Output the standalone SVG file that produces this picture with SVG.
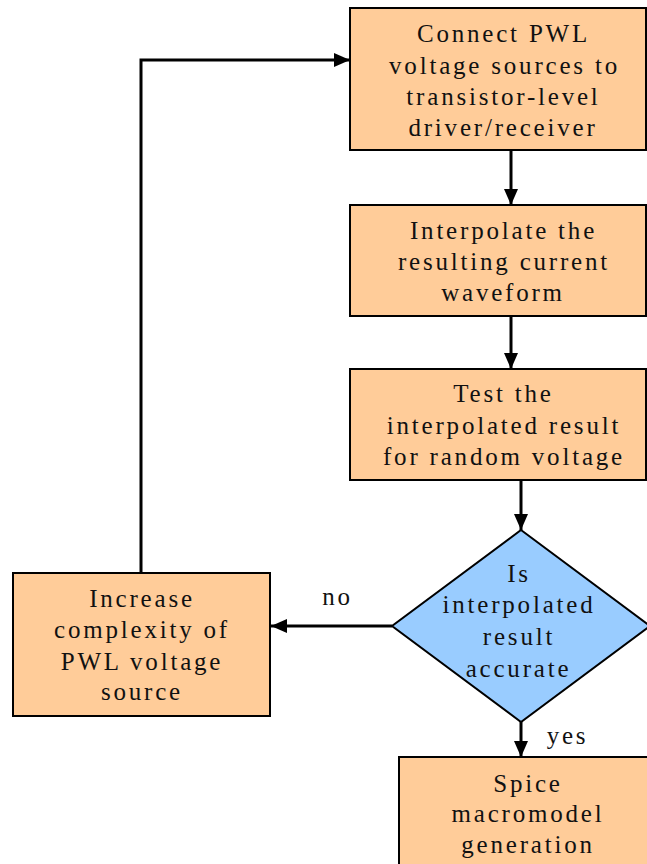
<svg xmlns="http://www.w3.org/2000/svg" width="647" height="864" viewBox="0 0 647 864">
<defs>
<marker id="ah" markerWidth="16" markerHeight="14" refX="16" refY="7" orient="auto" markerUnits="userSpaceOnUse">
<path d="M0,0 L16,7 L0,14 Z" fill="#000"/>
</marker>
</defs>
<style>
.box{fill:#FFCC99;stroke:#000;stroke-width:2}
.dia{fill:#99CCFF;stroke:#000;stroke-width:2}
.t{font-family:"Liberation Serif","Times New Roman",serif;font-size:25px;letter-spacing:2.8px;text-anchor:middle;fill:#111}
.c{fill:none;stroke:#000;stroke-width:3}
</style>
<rect width="647" height="864" fill="#fff"/>
<g id="connectors">
<path class="c" d="M511,151 L511,205" marker-end="url(#ah)"/>
<path class="c" d="M511,317 L511,369" marker-end="url(#ah)"/>
<path class="c" d="M521,481 L521,530" marker-end="url(#ah)"/>
<path class="c" d="M521,722 L521,757" marker-end="url(#ah)"/>
<path class="c" d="M392,626 L271,626" marker-end="url(#ah)"/>
<path class="c" d="M141,573 L141,60 L350,60" marker-end="url(#ah)"/>
<text class="t" x="337.5" y="605">no</text>
<text class="t" x="567.5" y="744">yes</text>
</g>
<g id="n1">
<rect class="box" x="350" y="8" width="296" height="142"/>
<text class="t" x="503.5" y="42">Connect PWL</text>
<text class="t" x="504.5" y="73.5">voltage sources to</text>
<text class="t" x="503.5" y="105">transistor-level</text>
<text class="t" x="503" y="135.5">driver/receiver</text>
</g>
<g id="n2">
<rect class="box" x="350" y="205" width="296" height="111"/>
<text class="t" x="503.5" y="238.5">Interpolate the</text>
<text class="t" x="504" y="270">resulting current</text>
<text class="t" x="503" y="301">waveform</text>
</g>
<g id="n3">
<rect class="box" x="350" y="369" width="296" height="111"/>
<text class="t" x="503.5" y="402">Test the</text>
<text class="t" x="504" y="433.5">interpolated result</text>
<text class="t" x="504" y="465">for random voltage</text>
</g>
<g id="n4">
<path class="dia" d="M521,530 L650,626 L521,722 L392,626 Z"/>
<text class="t" x="519" y="582">Is</text>
<text class="t" x="519" y="613">interpolated</text>
<text class="t" x="519" y="645">result</text>
<text class="t" x="518.5" y="676.5">accurate</text>
</g>
<g id="n5">
<rect class="box" x="13" y="573" width="257" height="143"/>
<text class="t" x="142" y="607">Increase</text>
<text class="t" x="142" y="638">complexity of</text>
<text class="t" x="142" y="670">PWL voltage</text>
<text class="t" x="142" y="700">source</text>
</g>
<g id="n6">
<rect class="box" x="399" y="757" width="260" height="120"/>
<text class="t" x="528" y="792">Spice</text>
<text class="t" x="528" y="822">macromodel</text>
<text class="t" x="528" y="853">generation</text>
</g>
</svg>
